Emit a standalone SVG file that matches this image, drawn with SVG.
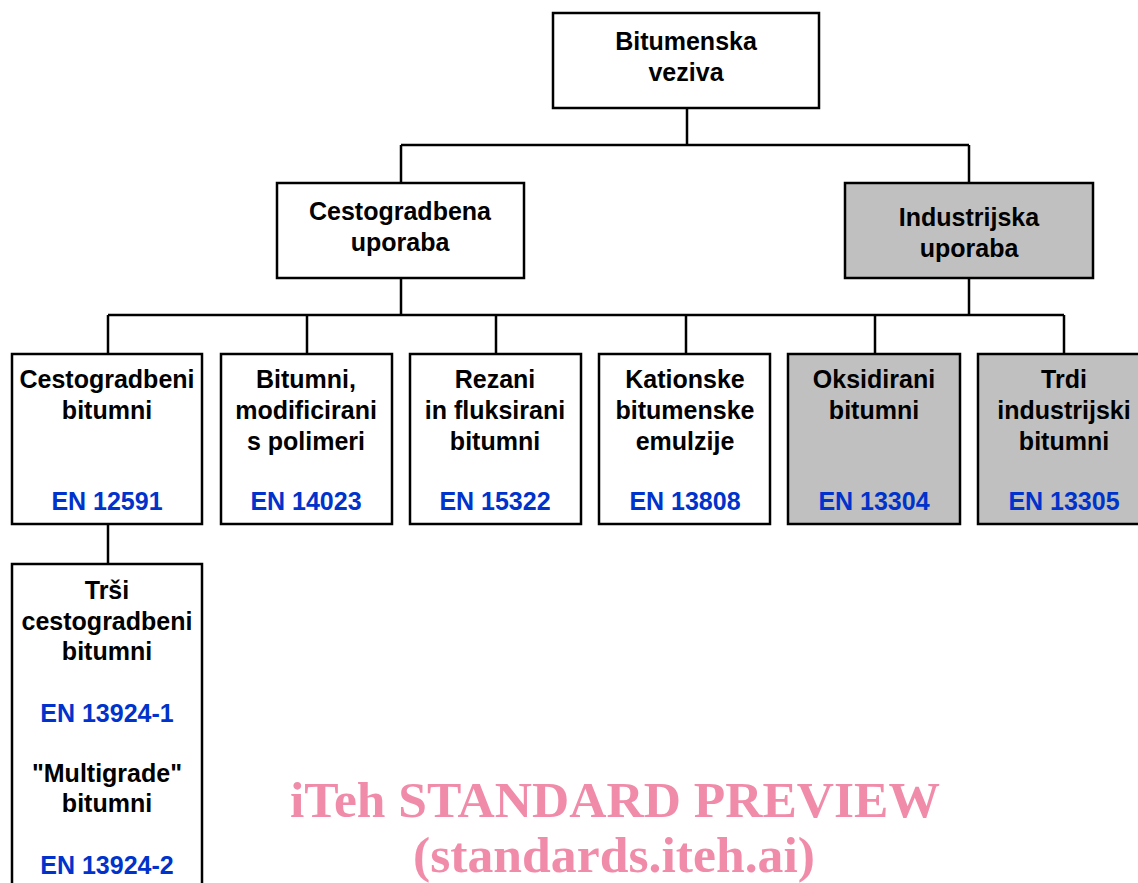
<svg xmlns="http://www.w3.org/2000/svg" width="1138" height="883" viewBox="0 0 1138 883">
<style>
.box{fill:#ffffff;stroke:#000000;stroke-width:2.5}
.gray{fill:#c0c0c0}
.t{font-family:"Liberation Sans",Arial,sans-serif;font-weight:bold;font-size:25px;fill:#000000;text-anchor:middle}
.en{fill:#0033cc}
.ln{fill:none;stroke:#000000;stroke-width:2.5}
.wm{font-family:"Liberation Serif","Times New Roman",serif;font-weight:bold;font-size:50px;fill:#f08caa;text-anchor:middle}
</style>
<rect width="1138" height="883" fill="#ffffff"/>
<g id="connectors">
<path class="ln" d="M687 108V145M401 145H969M401 145V183M969 145V183"/>
<path class="ln" d="M401 278V315M108 315H1064M108 315V354M307 315V354M496 315V354M686 315V354M875 315V354M1064 315V354"/>
<path class="ln" d="M108 524V564"/>
<path class="ln" d="M969 278V315"/>
</g>
<g id="n-root">
<rect class="box" x="553" y="13" width="266" height="95"/>
<text class="t" x="686" y="50">Bitumenska</text>
<text class="t" x="686" y="81">veziva</text>
</g>
<g id="n-cesto">
<rect class="box" x="277" y="183" width="247" height="95"/>
<text class="t" x="400" y="220">Cestogradbena</text>
<text class="t" x="400" y="251">uporaba</text>
</g>
<g id="n-ind">
<rect class="box gray" x="845" y="183" width="248" height="95"/>
<text class="t" x="969" y="226">Industrijska</text>
<text class="t" x="969" y="257">uporaba</text>
</g>
<g id="n-b1">
<rect class="box" x="12" y="354" width="190" height="170"/>
<text class="t" x="107" y="388">Cestogradbeni</text>
<text class="t" x="107" y="419">bitumni</text>
<text class="t en" x="107" y="510">EN 12591</text>
</g>
<g id="n-b2">
<rect class="box" x="221" y="354" width="171" height="170"/>
<text class="t" x="306" y="388">Bitumni,</text>
<text class="t" x="306" y="419">modificirani</text>
<text class="t" x="306" y="450">s polimeri</text>
<text class="t en" x="306" y="510">EN 14023</text>
</g>
<g id="n-b3">
<rect class="box" x="410" y="354" width="171" height="170"/>
<text class="t" x="495" y="388">Rezani</text>
<text class="t" x="495" y="419">in fluksirani</text>
<text class="t" x="495" y="450">bitumni</text>
<text class="t en" x="495" y="510">EN 15322</text>
</g>
<g id="n-b4">
<rect class="box" x="599" y="354" width="171" height="170"/>
<text class="t" x="685" y="388">Kationske</text>
<text class="t" x="685" y="419">bitumenske</text>
<text class="t" x="685" y="450">emulzije</text>
<text class="t en" x="685" y="510">EN 13808</text>
</g>
<g id="n-b5">
<rect class="box gray" x="788" y="354" width="172" height="170"/>
<text class="t" x="874" y="388">Oksidirani</text>
<text class="t" x="874" y="419">bitumni</text>
<text class="t en" x="874" y="510">EN 13304</text>
</g>
<g id="n-b6">
<rect class="box gray" x="978" y="354" width="172" height="170"/>
<text class="t" x="1064" y="388">Trdi</text>
<text class="t" x="1064" y="419">industrijski</text>
<text class="t" x="1064" y="450">bitumni</text>
<text class="t en" x="1064" y="510">EN 13305</text>
</g>
<g id="n-b7">
<rect class="box" x="12" y="564" width="190" height="340"/>
<text class="t" x="107" y="599">Trši</text>
<text class="t" x="107" y="630">cestogradbeni</text>
<text class="t" x="107" y="660">bitumni</text>
<text class="t en" x="107" y="722">EN 13924-1</text>
<text class="t" x="107" y="782">"Multigrade"</text>
<text class="t" x="107" y="812">bitumni</text>
<text class="t en" x="107" y="874">EN 13924-2</text>
</g>
<g id="watermark">
<text class="wm" x="615" y="817" textLength="650" lengthAdjust="spacingAndGlyphs">iTeh STANDARD PREVIEW</text>
<text class="wm" x="614" y="872" textLength="402" lengthAdjust="spacingAndGlyphs">(standards.iteh.ai)</text>
</g>
</svg>
